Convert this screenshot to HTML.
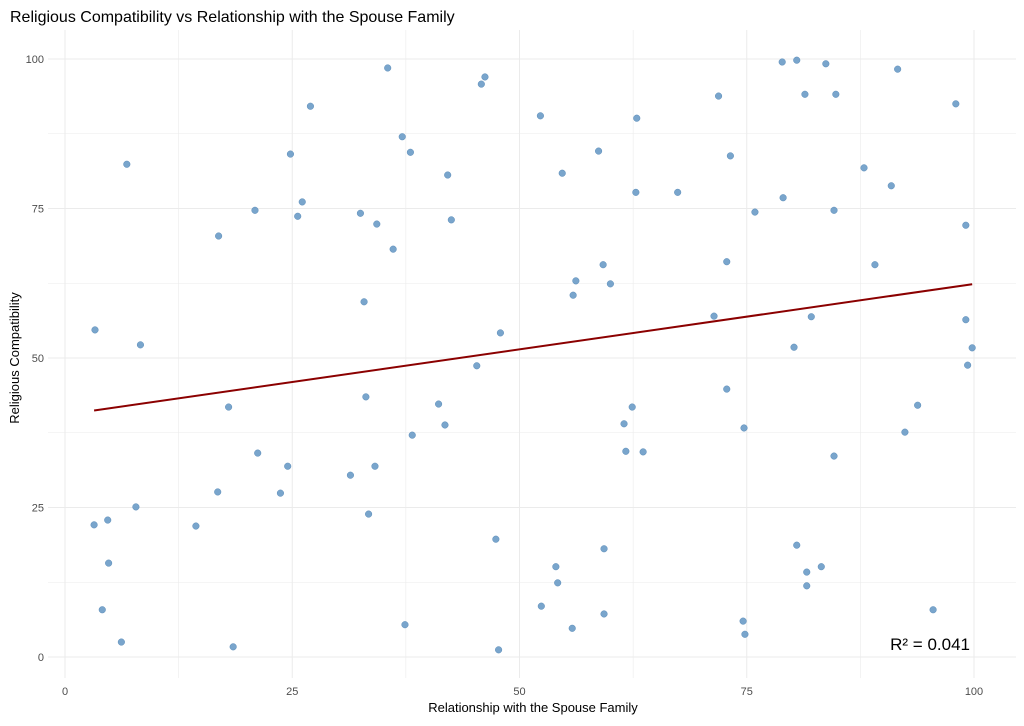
<!DOCTYPE html>
<html><head><meta charset="utf-8"><style>
body{margin:0;background:#fff;}
svg text{font-family:"Liberation Sans",sans-serif;}
</style></head><body>
<svg id="c" width="1024" height="721" xmlns="http://www.w3.org/2000/svg">
<text x="10" y="22" font-size="16" fill="#000">Religious Compatibility vs Relationship with the Spouse Family</text>
<g id="grid"></g><g id="pts"></g><g id="fit"></g><g id="ticks"></g>
<text x="533" y="712" font-size="13" text-anchor="middle" fill="#000">Relationship with the Spouse Family</text>
<text transform="translate(19,358) rotate(-90)" font-size="13" text-anchor="middle" fill="#000">Religious Compatibility</text>
</svg>
<script>
const xs=[3.2,3.3,4.1,4.7,4.8,6.2,6.8,7.8,8.3,14.4,16.9,16.8,18.0,18.5,20.9,21.2,23.7,24.5,24.8,25.6,26.1,27.0,31.4,32.5,32.9,33.1,33.4,34.1,34.3,35.5,36.1,37.1,37.4,38.0,38.2,41.1,41.8,42.1,42.5,45.3,45.8,46.2,47.4,47.7,47.9,52.3,52.4,54.0,54.2,54.7,55.8,55.9,56.2,58.7,59.2,59.3,59.3,60.0,61.5,61.7,62.4,62.9,62.8,63.6,67.4,71.4,71.9,72.8,72.8,73.2,74.7,74.6,74.8,75.9,78.9,79.0,80.2,80.5,80.5,81.4,81.6,81.6,82.1,83.2,83.7,84.6,84.6,84.8,87.9,89.1,90.9,91.6,92.4,93.8,95.5,98.0,99.1,99.1,99.8,99.3];
const ys=[22.1,54.7,7.9,22.9,15.7,2.5,82.4,25.1,52.2,21.9,70.4,27.6,41.8,1.7,74.7,34.1,27.4,31.9,84.1,73.7,76.1,92.1,30.4,74.2,59.4,43.5,23.9,31.9,72.4,98.5,68.2,87.0,5.4,84.4,37.1,42.3,38.8,80.6,73.1,48.7,95.8,97.0,19.7,1.2,54.2,90.5,8.5,15.1,12.4,80.9,4.8,60.5,62.9,84.6,65.6,18.1,7.2,62.4,39.0,34.4,41.8,90.1,77.7,34.3,77.7,57.0,93.8,66.1,44.8,83.8,38.3,6.0,3.8,74.4,99.5,76.8,51.8,99.8,18.7,94.1,14.2,11.9,56.9,15.1,99.2,74.7,33.6,94.1,81.8,65.6,78.8,98.3,37.6,42.1,7.9,92.5,72.2,56.4,51.7,48.8];
const xTicks=[0,25,50,75,100];
const yTicks=[0,25,50,75,100];
const X=v=>65+v*9.09, Y=v=>657-v*5.98;
const NS="http://www.w3.org/2000/svg";
function mk(t,a,p){const e=document.createElementNS(NS,t);for(const k in a)e.setAttribute(k,a[k]);p.appendChild(e);return e;}
const g=document.getElementById('grid');
const bg=mk('rect',{x:48,y:30,width:968,height:648,fill:'#fff'},g);
for(let v=-12.5;v<=112.5;v+=12.5){const major=v%25===0;const px=X(v);if(px>=48&&px<=1016){const l=mk('line',{x1:px,x2:px,y1:30,y2:678,stroke:'#ebebeb','stroke-width':major?1:0.6},g);

}
const py=Y(v);if(py>=30&&py<=678){const l=mk('line',{x1:48,x2:1016,y1:py,y2:py,stroke:'#ebebeb','stroke-width':major?1:0.6},g);

}}
const pg=document.getElementById('pts');
xs.forEach((x,i)=>{const c=mk('circle',{cx:X(x),cy:Y(ys[i]),r:3.3,fill:'#6a9bc7','fill-opacity':0.9,stroke:'#5b8cb9','stroke-width':0.5},pg);

});
const n=xs.length,mx=xs.reduce((a,b)=>a+b)/n,my=ys.reduce((a,b)=>a+b)/n;
let sxy=0,sxx=0,syy=0;xs.forEach((x,i)=>{sxy+=(x-mx)*(ys[i]-my);sxx+=(x-mx)**2;syy+=(ys[i]-my)**2;});
const b=sxy/sxx,a=my-b*mx,r2=sxy*sxy/(sxx*syy);
const x0=Math.min(...xs),x1=Math.max(...xs);
const fl=mk('line',{x1:X(x0),y1:Y(a+b*x0),x2:X(x1),y2:Y(a+b*x1),stroke:'#8b0000','stroke-width':2},document.getElementById('fit'));


const rt=mk('text',{x:970,y:650,'font-size':17,'text-anchor':'end',fill:'#000'},document.getElementById('fit'));
rt.textContent='R² = '+r2.toFixed(3);


const tg=document.getElementById('ticks');
xTicks.forEach(v=>{const t=mk('text',{x:X(v),y:695,'font-size':11,'text-anchor':'middle',fill:'#4d4d4d'},tg);t.textContent=v;

});
yTicks.forEach(v=>{const t=mk('text',{x:44,y:Y(v)+4,'font-size':11,'text-anchor':'end',fill:'#4d4d4d'},tg);t.textContent=v;

});
</script>
</body></html>
